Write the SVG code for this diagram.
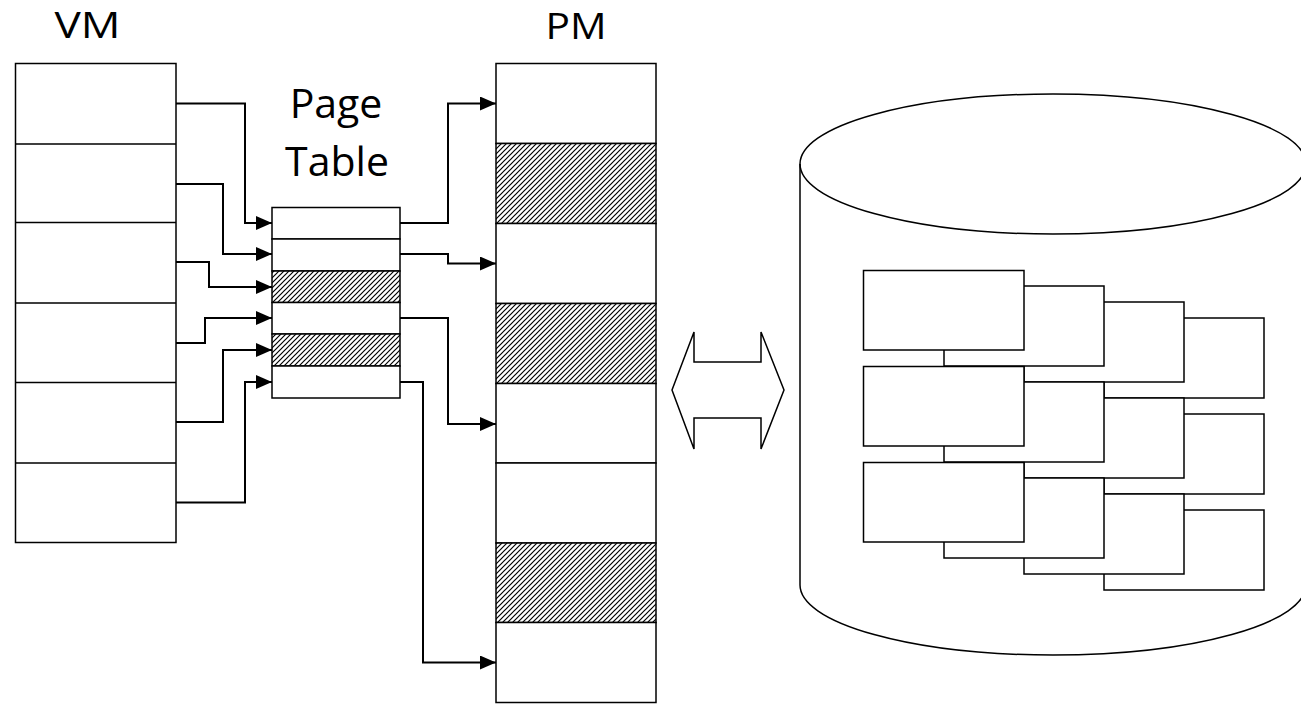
<svg xmlns="http://www.w3.org/2000/svg" width="1301" height="704" viewBox="0 0 1301 704">
<defs>
<style>
.box{fill:#fff;stroke:#000;stroke-width:1.5}
.hatch{fill:url(#hatch);stroke:#000;stroke-width:1.5}
.line{fill:none;stroke:#000;stroke-width:1.5}
.conn{fill:none;stroke:#000;stroke-width:2}
.lbl{font-family:"Open Sans","Noto Sans",sans-serif;fill:#000;text-anchor:middle}
</style>
<pattern id="hatch" patternUnits="userSpaceOnUse" width="5" height="5">
<rect width="5" height="5" fill="#fff"/>
<path d="M-1,1 L1,-1 M0,5 L5,0 M4,6 L6,4" stroke="#000" stroke-width="1.2"/>
</pattern>
<marker id="arr" markerUnits="userSpaceOnUse" markerWidth="16" markerHeight="14" refX="16" refY="7" orient="auto">
<path d="M0,0 L16,7 L0,14 Z" fill="#000"/>
</marker>
</defs>
<rect width="1301" height="704" fill="#fff"/>

<g id="vm">
<text class="lbl" x="87.5" y="38" font-size="37" textLength="66" lengthAdjust="spacingAndGlyphs">VM</text>
<rect class="box" x="15.5" y="63.5" width="160.5" height="479"/>
<path class="line" d="M15.5,144 H176 M15.5,222.5 H176 M15.5,303 H176 M15.5,382.5 H176 M15.5,463 H176"/>
</g>

<g id="page-table">
<text class="lbl" x="336" y="118" font-size="41">Page</text>
<text class="lbl" x="337" y="176" font-size="41">Table</text>
<rect class="box" x="272" y="207.5" width="128" height="31.5"/>
<rect class="box" x="272" y="239" width="128" height="32"/>
<rect class="hatch" x="272" y="271" width="128" height="31.5"/>
<rect class="box" x="272" y="302.5" width="128" height="31.5"/>
<rect class="hatch" x="272" y="334" width="128" height="32"/>
<rect class="box" x="272" y="366" width="128" height="32"/>
</g>

<g id="pm">
<text class="lbl" x="576" y="38.5" font-size="37" textLength="61" lengthAdjust="spacingAndGlyphs">PM</text>
<rect class="box" x="496" y="63.5" width="160" height="80"/>
<rect class="hatch" x="496" y="143.5" width="160" height="80"/>
<rect class="box" x="496" y="223.5" width="160" height="80"/>
<rect class="hatch" x="496" y="303.5" width="160" height="80"/>
<rect class="box" x="496" y="383.5" width="160" height="79.5"/>
<rect class="box" x="496" y="463" width="160" height="80"/>
<rect class="hatch" x="496" y="543" width="160" height="79.5"/>
<rect class="box" x="496" y="622.5" width="160" height="80"/>
</g>

<g id="swap-arrow">
<polygon class="box" points="672,390 694,332 694,362 761,362 761,332 784,390 761,449 761,418 694,418 694,449"/>
</g>

<g id="disk">
<path class="box" d="M800,164 A253,70 0 0 1 1306,164 V585 A253,70 0 0 1 800,585 Z"/>
<path class="line" d="M800,164 A253,70 0 0 0 1306,164"/>
<g id="stack1">
<rect class="box" x="1104" y="318" width="160" height="80"/>
<rect class="box" x="1024" y="302" width="160" height="80"/>
<rect class="box" x="944" y="286" width="160" height="80"/>
<rect class="box" x="863.5" y="270.5" width="160.5" height="79.5"/>
</g>
<g id="stack2">
<rect class="box" x="1104" y="414" width="160" height="80"/>
<rect class="box" x="1024" y="398" width="160" height="80"/>
<rect class="box" x="944" y="382" width="160" height="80"/>
<rect class="box" x="863.5" y="366.5" width="160.5" height="79.5"/>
</g>
<g id="stack3">
<rect class="box" x="1104" y="510" width="160" height="80"/>
<rect class="box" x="1024" y="494" width="160" height="80"/>
<rect class="box" x="944" y="478" width="160" height="80"/>
<rect class="box" x="863.5" y="462.5" width="160.5" height="79.5"/>
</g>
</g>

<g id="connectors">
<path class="conn" marker-end="url(#arr)" d="M176,103.5 H245 V223 H272"/>
<path class="conn" marker-end="url(#arr)" d="M176,184 H223 V254 H272"/>
<path class="conn" marker-end="url(#arr)" d="M176,262 H209 V287 H272"/>
<path class="conn" marker-end="url(#arr)" d="M176,343 H205 V318 H272"/>
<path class="conn" marker-end="url(#arr)" d="M176,422 H223 V350 H272"/>
<path class="conn" marker-end="url(#arr)" d="M176,502.5 H245 V382 H272"/>
<path class="conn" marker-end="url(#arr)" d="M400,223 H448 V103.5 H496"/>
<path class="conn" marker-end="url(#arr)" d="M400,254 H448 V263.5 H496"/>
<path class="conn" marker-end="url(#arr)" d="M400,318 H448 V424 H496"/>
<path class="conn" marker-end="url(#arr)" d="M400,382 H423 V662.5 H496"/>
</g>
</svg>
